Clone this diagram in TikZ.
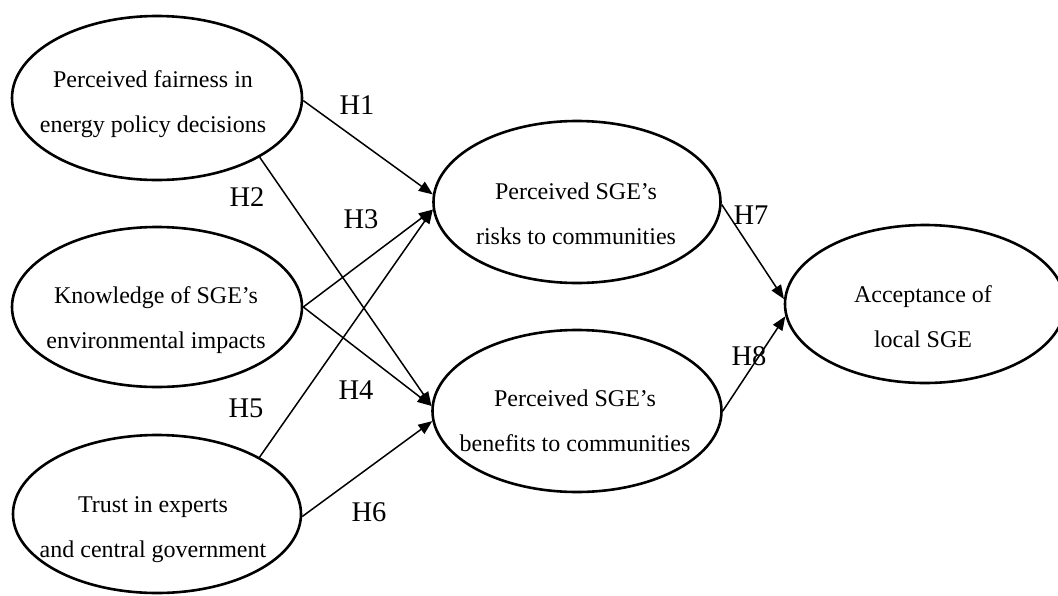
\documentclass[tikz,border=0pt]{standalone}
\usepackage{fontspec}
\setmainfont{Liberation Serif}
\usetikzlibrary{shapes.geometric,arrows.meta}
\newcommand{\lh}{\vphantom{Adg}}
\begin{document}
\begin{tikzpicture}[x=1pt,y=-1pt,
  ell/.style={ellipse,draw,line width=2.6pt,inner sep=0pt},
  txt/.style={align=center,font=\fontsize{24}{45}\selectfont,inner sep=0pt},
  hyp/.style={font=\fontsize{28.5}{30}\selectfont,inner sep=0pt},
  link/.style={line width=1.5pt,-{Triangle[length=14pt,width=11pt]}}]
\useasboundingbox (0,0) rectangle (1058,595);
% ellipses
\node[ell,minimum width=290pt,minimum height=164pt] (e1) at (157,98) {};
\node[ell,minimum width=290pt,minimum height=160pt] (e2) at (157,307) {};
\node[ell,minimum width=288pt,minimum height=158pt] (e3) at (157,514) {};
\node[ell,minimum width=287pt,minimum height=162pt] (m1) at (577,202) {};
\node[ell,minimum width=289pt,minimum height=162pt] (m2) at (577,411) {};
\node[ell,minimum width=280pt,minimum height=158pt] (r) at (925,304) {};
% texts
\node[txt] (e1t) at (153,104.5) {\lh Perceived fairness in\\energy policy decisions\lh};
\node[txt] (e2t) at (156,320) {\lh Knowledge of SGE’s\\environmental impacts\lh};
\node[txt] (e3t) at (153,529) {\lh Trust in experts\\and central government\lh};
\node[txt] (m1t) at (576,216) {\lh Perceived SGE’s\\risks to communities\lh};
\node[txt] (m2t) at (575,423) {\lh Perceived SGE’s\\benefits to communities\lh};
\node[txt] (rt) at (923,319) {\lh Acceptance of\\local SGE\lh};
% connectors
\draw[link] (e1.-1) -- (m1.177);
\draw[link] (e2.east) -- (m1.183);
\draw[link] (e3.29) -- (m1.183);
\draw[link] (e1.-30) -- (m2.178);
\draw[link] (e2.east) -- (m2.178);
\draw[link] (e3.-1) -- (m2.184);
\draw[link] (m1.-1) -- (r.178);
\draw[link] (m2.east) -- (r.185);
% labels
\node[hyp] (h1) at (357,105) {H1};
\node[hyp] (h2) at (247,197) {H2};
\node[hyp] (h3) at (361,219) {H3};
\node[hyp] (h4) at (356,390) {H4};
\node[hyp] (h5) at (246,408) {H5};
\node[hyp] (h6) at (369,512) {H6};
\node[hyp] (h7) at (751,215) {H7};
\node[hyp] (h8) at (749,356) {H8};
\end{tikzpicture}
\end{document}
